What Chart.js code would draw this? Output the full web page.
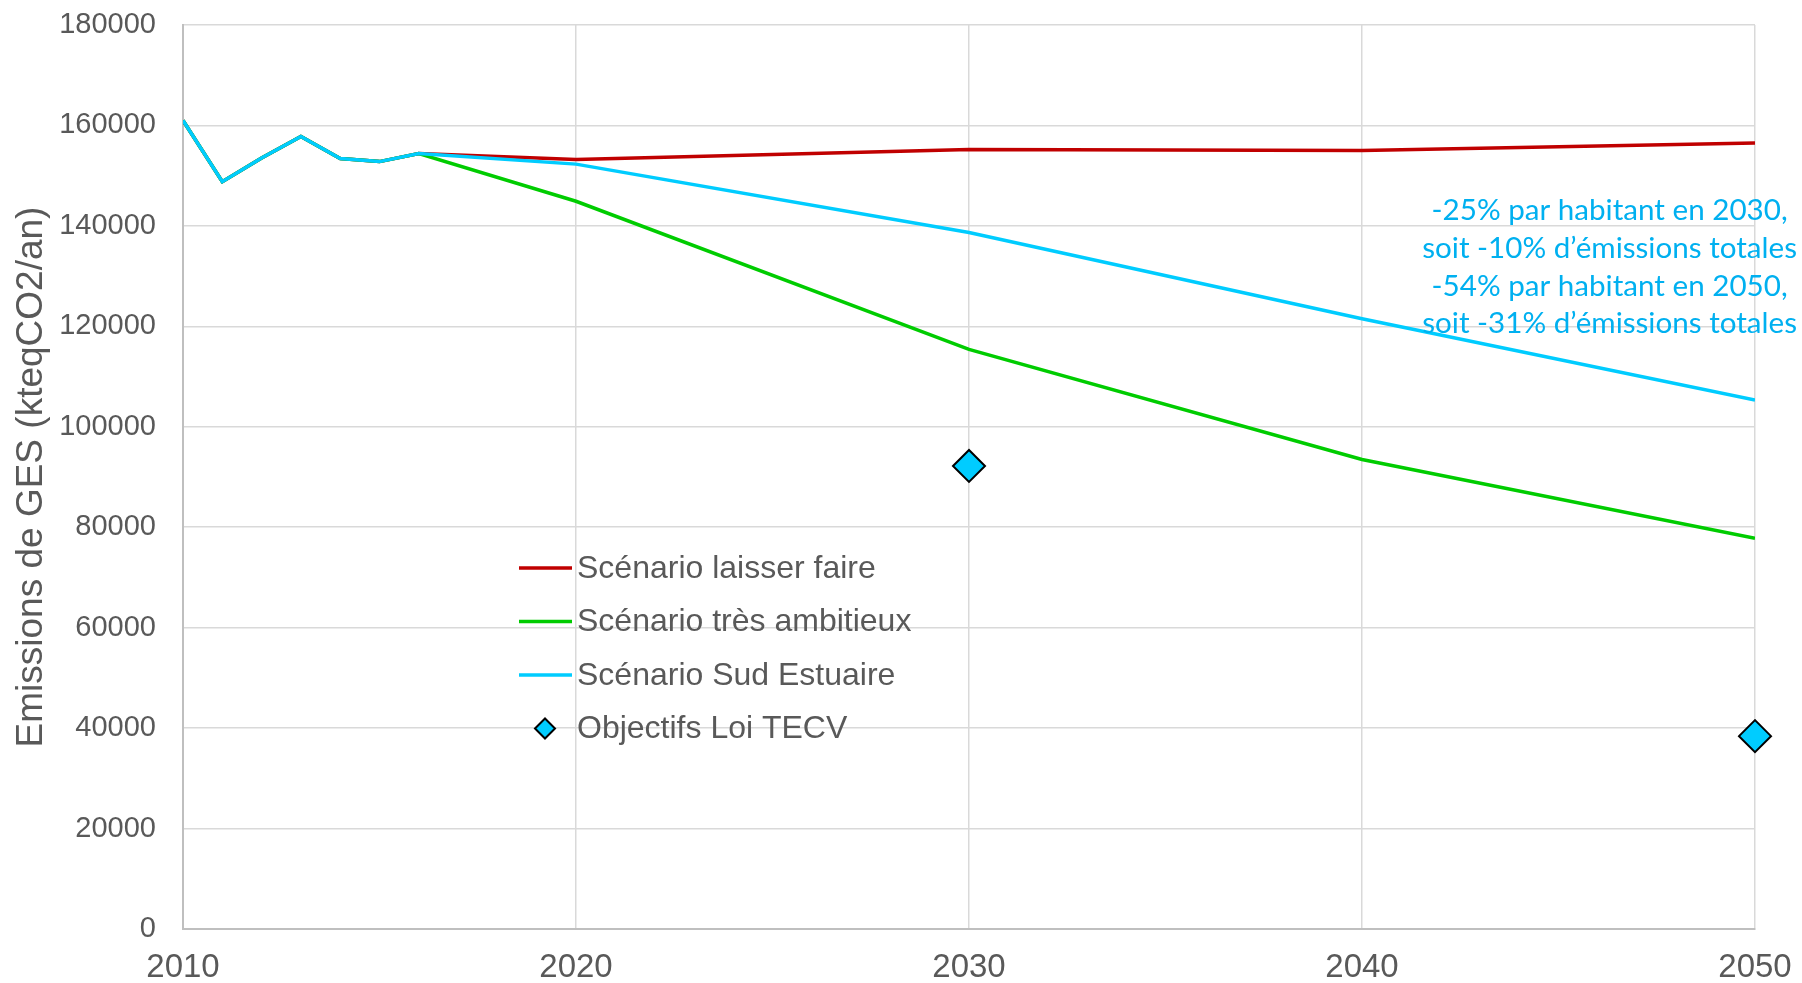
<!DOCTYPE html>
<html lang="fr">
<head>
    <meta charset="UTF-8">
    <title>Emissions de GES - scénarios</title>
    <script src="https://cdn.jsdelivr.net/npm/chart.js"></script>
    <style>
        html, body {
            margin: 0;
            padding: 0;
            background-color: #fff;
        }
        .chart-container {
            position: relative;
            width: 1802px;
            height: 983px;
        }
    </style>
</head>
<body>
    <div class="chart-container">
        <canvas id="chart"></canvas>
    </div>

    <script>
        // Data
        const years = [2010, 2011, 2012, 2013, 2014, 2015, 2016, 2020, 2030, 2040, 2050];
        const laisserFaire = [161000, 148800, 153500, 157800, 153400, 152800, 154400, 153200, 155200, 155000, 156500];
        const tresAmbitieux = [161000, 148800, 153500, 157800, 153400, 152800, 154400, 144900, 115400, 93500, 77800];
        const sudEstuaire = [161000, 148800, 153500, 157800, 153400, 152800, 154400, 152300, 138700, 121500, 105300];
        const objectifYears = [2030, 2050];
        const objectifValues = [92200, 38400];

        const seriesLabels = ['Scénario laisser faire', 'Scénario très ambitieux', 'Scénario Sud Estuaire', 'Objectifs Loi TECV'];
        const yTitle = 'Emissions de GES (kteqCO2/an)';
        const noteLines = [
            '-25% par habitant en 2030,',
            'soit -10% d\u2019émissions totales',
            '-54% par habitant en 2050,',
            'soit -31% d\u2019émissions totales'
        ];

        const RED = '#C00000';
        const GREEN = '#00CC00';
        const BLUE = '#00CCFF';
        const NOTE_BLUE = '#00B0F0';
        const TEXT_GREY = '#595959';

        function toPoints(xs, ys) {
            return xs.map((x, i) => ({ x: x, y: ys[i] }));
        }

        // Legend drawn inside the plot area
        const insideLegend = {
            id: 'insideLegend',
            afterDraw(chart) {
                const ctx = chart.ctx;
                const area = chart.chartArea;
                const x0 = area.left + 336;
                const y0 = area.top + 543;
                const rowH = 53.5;
                ctx.save();
                ctx.font = '32px "Liberation Sans", Arial, sans-serif';
                ctx.textBaseline = 'middle';
                ctx.textAlign = 'left';
                chart.data.datasets.forEach((ds, i) => {
                    const y = y0 + i * rowH;
                    if (ds.showLine === false) {
                        const cx = x0 + 26, r = 10;
                        ctx.beginPath();
                        ctx.moveTo(cx - r, y);
                        ctx.lineTo(cx, y - r);
                        ctx.lineTo(cx + r, y);
                        ctx.lineTo(cx, y + r);
                        ctx.closePath();
                        ctx.fillStyle = ds.backgroundColor;
                        ctx.fill();
                        ctx.lineWidth = 2;
                        ctx.strokeStyle = ds.borderColor;
                        ctx.stroke();
                    } else {
                        ctx.beginPath();
                        ctx.moveTo(x0, y);
                        ctx.lineTo(x0 + 53, y);
                        ctx.lineWidth = 3.5;
                        ctx.strokeStyle = ds.borderColor;
                        ctx.stroke();
                    }
                    ctx.fillStyle = TEXT_GREY;
                    ctx.fillText(ds.label, x0 + 58, y + 1);
                });
                ctx.restore();
            }
        };

        // Blue note on the right
        const noteText = {
            id: 'noteText',
            afterDraw(chart) {
                const ctx = chart.ctx;
                const cx = chart.scales.x.getPixelForValue(2046.3);
                const top = chart.scales.y.getPixelForValue(143000);
                ctx.save();
                ctx.font = '29.6px Lato, "Open Sans", sans-serif';
                ctx.fillStyle = NOTE_BLUE;
                ctx.textAlign = 'center';
                ctx.textBaseline = 'middle';
                noteLines.forEach((line, i) => {
                    ctx.fillText(line, cx, top + i * 37.7);
                });
                ctx.restore();
            }
        };

        const ctx = document.getElementById('chart').getContext('2d');
        const chart = new Chart(ctx, {
            type: 'line',
            data: {
                datasets: [
                    {
                        label: seriesLabels[0],
                        data: toPoints(years, laisserFaire),
                        borderColor: RED,
                        backgroundColor: RED,
                        borderWidth: 3.5,
                        pointRadius: 0,
                        order: 3
                    },
                    {
                        label: seriesLabels[1],
                        data: toPoints(years, tresAmbitieux),
                        borderColor: GREEN,
                        backgroundColor: GREEN,
                        borderWidth: 3.5,
                        pointRadius: 0,
                        order: 2
                    },
                    {
                        label: seriesLabels[2],
                        data: toPoints(years, sudEstuaire),
                        borderColor: BLUE,
                        backgroundColor: BLUE,
                        borderWidth: 3.5,
                        pointRadius: 0,
                        order: 1
                    },
                    {
                        label: seriesLabels[3],
                        data: toPoints(objectifYears, objectifValues),
                        showLine: false,
                        pointStyle: 'rectRot',
                        pointRadius: 16,
                        pointBorderWidth: 2,
                        backgroundColor: BLUE,
                        borderColor: '#000000',
                        clip: false,
                        order: 0
                    }
                ]
            },
            options: {
                responsive: true,
                maintainAspectRatio: false,
                animation: false,
                layout: {
                    padding: { top: 25, right: 47, left: 0, bottom: 0 }
                },
                plugins: {
                    legend: { display: false },
                    tooltip: { enabled: false }
                },
                scales: {
                    x: {
                        type: 'linear',
                        min: 2010,
                        max: 2050,
                        afterFit(scale) {
                            scale.height = 54;
                            scale.paddingLeft = 0;
                            scale.paddingRight = 0;
                        },
                        ticks: {
                            stepSize: 10,
                            padding: 19,
                            color: TEXT_GREY,
                            font: { family: '"Liberation Sans", Arial, sans-serif', size: 33 },
                            callback: v => String(v)
                        },
                        grid: { color: '#d9d9d9', lineWidth: 1.5, drawTicks: false },
                        border: { color: '#bfbfbf', width: 2 }
                    },
                    y: {
                        min: 0,
                        max: 180000,
                        afterFit(scale) {
                            scale.width = 183;
                            scale.paddingTop = 0;
                            scale.paddingBottom = 0;
                        },
                        ticks: {
                            stepSize: 20000,
                            padding: 27,
                            color: TEXT_GREY,
                            font: { family: '"Liberation Sans", Arial, sans-serif', size: 29 },
                            callback: v => String(v)
                        },
                        grid: { color: '#d9d9d9', lineWidth: 1.5, drawTicks: false },
                        border: { color: '#bfbfbf', width: 2 },
                        title: {
                            display: true,
                            text: yTitle,
                            color: TEXT_GREY,
                            font: { family: '"Liberation Sans", Arial, sans-serif', size: 37 },
                            padding: { top: 10, bottom: 0 }
                        }
                    }
                }
            },
            plugins: [insideLegend, noteText]
        });
    </script>
</body>
</html>
